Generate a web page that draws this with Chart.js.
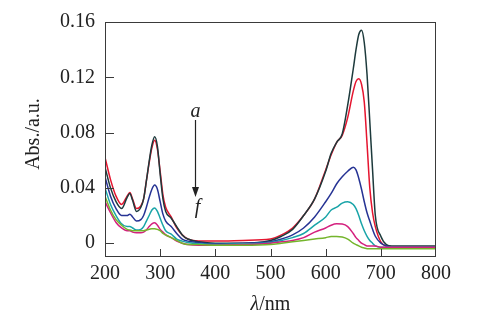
<!DOCTYPE html>
<html>
<head>
<meta charset="utf-8">
<script src="https://cdn.jsdelivr.net/npm/chart.js@4.4.1/dist/chart.umd.min.js"></script>
<style>
html,body{margin:0;padding:0;background:#fff;}
#c{display:block;}
</style>
</head>
<body>
<canvas id="c" width="485" height="322"></canvas>
<script>
// ---- data ----
const wavelengths = [200,210,220,230,240,245,250,257,265,270,275,280,285,290,295,300,305,310,320,330,340,350,370,400,450,500,520,540,560,580,600,610,620,630,640,650,655,660,665,670,675,680,685,690,700,710,720,750,800];
const seriesA = [0.055,0.040,0.030,0.025,0.033,0.036,0.031,0.023,0.026,0.032,0.045,0.059,0.071,0.077,0.070,0.050,0.032,0.023,0.018,0.012,0.006,0.003,0.001,0.000,0.000,0.002,0.005,0.010,0.020,0.032,0.052,0.065,0.073,0.079,0.100,0.126,0.140,0.151,0.154,0.145,0.122,0.088,0.053,0.020,0.005,-0.001,-0.002,-0.002,-0.002];
const seriesB = [0.062,0.046,0.034,0.028,0.034,0.0366,0.032,0.025,0.027,0.032,0.045,0.058,0.069,0.0745,0.068,0.052,0.035,0.026,0.019,0.011,0.006,0.003,0.0015,0.0015,0.002,0.003,0.006,0.011,0.020,0.032,0.053,0.064,0.073,0.078,0.091,0.110,0.117,0.119,0.115,0.102,0.072,0.040,0.022,0.012,0.001,-0.002,-0.0025,-0.0025,-0.0025];
const seriesC = [0.048,0.034,0.025,0.020,0.020,0.021,0.019,0.016,0.017,0.020,0.026,0.033,0.039,0.042,0.039,0.030,0.021,0.016,0.012,0.007,0.003,0.0015,0.0005,-0.0005,0.000,0.001,0.003,0.006,0.011,0.019,0.030,0.036,0.043,0.048,0.052,0.055,0.053,0.047,0.039,0.030,0.022,0.016,0.010,0.005,0.000,-0.002,-0.003,-0.003,-0.003];
const seriesD = [0.040,0.028,0.020,0.014,0.012,0.012,0.011,0.0095,0.010,0.012,0.016,0.020,0.024,0.0255,0.023,0.018,0.013,0.009,0.0065,0.003,0.0015,0.0005,-0.0005,-0.001,-0.0005,0.0005,0.002,0.004,0.007,0.013,0.019,0.024,0.026,0.029,0.030,0.028,0.025,0.020,0.014,0.009,0.005,0.002,0.000,-0.002,-0.003,-0.003,-0.003,-0.003,-0.003];
const seriesE = [0.030,0.022,0.015,0.011,0.009,0.009,0.008,0.0075,0.0075,0.008,0.0095,0.012,0.014,0.0147,0.013,0.010,0.008,0.006,0.004,0.0015,0.000,-0.001,-0.0015,-0.0015,-0.001,0.000,0.001,0.002,0.004,0.008,0.011,0.013,0.014,0.0138,0.012,0.007,0.004,0.002,0.000,-0.001,-0.002,-0.002,-0.002,-0.002,-0.003,-0.003,-0.003,-0.003,-0.003];
const seriesF = [0.034,0.024,0.017,0.013,0.010,0.0095,0.009,0.009,0.009,0.009,0.0095,0.010,0.0105,0.0105,0.010,0.009,0.007,0.006,0.004,0.002,0.000,-0.001,-0.001,-0.0015,-0.0015,-0.001,0.000,0.001,0.002,0.003,0.004,0.0048,0.0048,0.0045,0.003,0.000,-0.001,-0.002,-0.003,-0.0035,-0.004,-0.004,-0.004,-0.004,-0.004,-0.004,-0.004,-0.004,-0.004];
const seriesNames = ['a','b','c','d','e','f'];
const xTicks = [200,300,400,500,600,700,800];
const yTicks = [0,0.04,0.08,0.12,0.16];
const xTitle = ['λ','/nm'];
const yTitle = 'Abs./a.u.';
const arrowLabels = ['a','f'];

// ---- styles ----
const colors = {a:'#1d3a3c', b:'#e5152f', c:'#263394', d:'#19a4a8', e:'#d4207e', f:'#74b52c'};
const serif = '"Liberation Serif", "DejaVu Serif", serif';

function toPoints(arr){ return wavelengths.map((w,i)=>({x:w, y:arr[i]})); }
const seriesData = {a:seriesA, b:seriesB, c:seriesC, d:seriesD, e:seriesE, f:seriesF};
const drawOrder = ['f','e','d','c','a','b'];
const datasets = drawOrder.map(k=>({
  label:k,
  data:toPoints(seriesData[k]),
  borderColor:colors[k],
  borderWidth:1.5,
  pointRadius:0,
  fill:false,
  cubicInterpolationMode:'monotone'
}));

const deco = {
  id:'deco',
  afterDatasetsDraw(chart){
    const {ctx, chartArea:a, scales:{x,y}} = chart;
    ctx.save();
    ctx.strokeStyle = '#3a3a3a';
    ctx.lineWidth = 1;
    ctx.strokeRect(a.left+0.5, a.top+0.5, a.right-a.left-1, a.bottom-a.top-1);
    // inward ticks
    ctx.beginPath();
    xTicks.forEach(v=>{
      if(v<=x.min||v>=x.max) return;
      const px = Math.round(x.getPixelForValue(v))+0.5;
      ctx.moveTo(px, a.bottom); ctx.lineTo(px, a.bottom-8);
    });
    yTicks.forEach(v=>{
      if(v<=y.min||v>=y.max) return;
      const py = Math.round(y.getPixelForValue(v))+0.5;
      ctx.moveTo(a.left, py); ctx.lineTo(a.left+9, py);
    });
    ctx.stroke();
    // y title
    ctx.fillStyle = '#222';
    ctx.font = '20px '+serif;
    ctx.textAlign='center'; ctx.textBaseline='middle';
    ctx.save();
    ctx.translate(34, 134);
    ctx.rotate(-Math.PI/2);
    ctx.fillText(yTitle, 0, 0);
    ctx.restore();
    // x title
    ctx.textBaseline='middle';
    ctx.textAlign='left';
    ctx.font = 'italic 20px '+serif;
    const w1 = ctx.measureText(xTitle[0]).width;
    ctx.font = '20px '+serif;
    const w2 = ctx.measureText(xTitle[1]).width;
    const cx = (a.left+a.right)/2;
    let sx = cx - (w1+w2)/2;
    ctx.font = 'italic 20px '+serif;
    ctx.fillText(xTitle[0], sx, 305);
    ctx.font = '20px '+serif;
    ctx.fillText(xTitle[1], sx+w1, 305);
    // arrow annotation
    const ax = Math.round(x.getPixelForValue(364))+0.5;
    ctx.font = 'italic 20px '+serif;
    ctx.textAlign='center';
    ctx.fillText(arrowLabels[0], ax, 112);
    ctx.fillText(arrowLabels[1], ax+2, 208);
    ctx.strokeStyle='#222'; ctx.lineWidth=1.2;
    ctx.beginPath(); ctx.moveTo(ax,120); ctx.lineTo(ax,190); ctx.stroke();
    ctx.fillStyle='#222';
    ctx.beginPath(); ctx.moveTo(ax,197); ctx.lineTo(ax-3.5,187); ctx.lineTo(ax+3.5,187); ctx.closePath(); ctx.fill();
    ctx.restore();
  }
};

new Chart(document.getElementById('c'), {
  type:'line',
  data:{datasets},
  options:{
    responsive:false,
    animation:false,
    devicePixelRatio:1,
    layout:{padding:{left:0,right:49,top:11,bottom:0}},
    plugins:{legend:{display:false}, tooltip:{enabled:false}},
    scales:{
      x:{
        type:'linear', min:200, max:800,
        afterBuildTicks:s=>{ s.ticks = xTicks.map(v=>({value:v})); },
        afterFit:s=>{ s.height = 65; },
        grid:{display:false, drawTicks:false},
        border:{display:false},
        ticks:{color:'#222', font:{family:serif, size:20}, padding:5, maxRotation:0, autoSkip:false,
          callback:v=>String(v)}
      },
      y:{
        type:'linear', min:-0.01, max:0.16,
        afterBuildTicks:s=>{ s.ticks = yTicks.map(v=>({value:v})); },
        afterFit:s=>{ s.width = 105; },
        grid:{display:false, drawTicks:false},
        border:{display:false},
        ticks:{color:'#222', font:{family:serif, size:20}, padding:10, autoSkip:false,
          callback:v=> v===0 ? '0' : Number(v).toFixed(2)}
      }
    }
  },
  plugins:[deco]
});
</script>
</body>
</html>
